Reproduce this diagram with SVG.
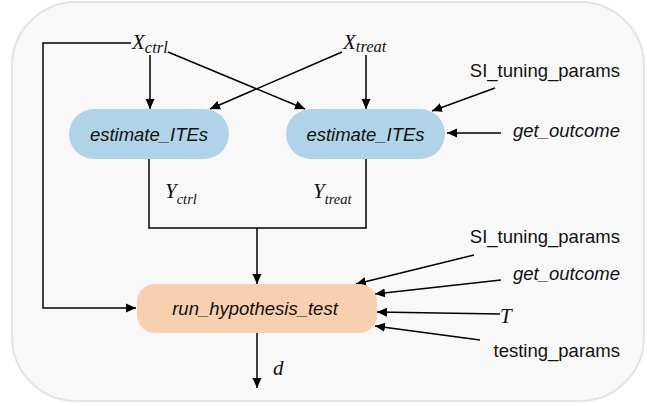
<svg xmlns="http://www.w3.org/2000/svg" width="647" height="406" viewBox="0 0 647 406">
  <style>
    .frame { fill: #f8f8f8; stroke: #e3e3e3; stroke-width: 2; }
    .ite { fill: #b1d3e7; }
    .test { fill: #f7d0b0; }
    .edge { fill: none; stroke: #000; stroke-width: 1.5; }
    .sans { font-family: "Liberation Sans", Arial, Helvetica, sans-serif; font-size: 18.5px; fill: #111; }
    .it { font-style: italic; }
    .math { font-family: "Liberation Serif", "Times New Roman", serif; font-style: italic; fill: #111; }
    .big { font-size: 21px; }
    .sub { font-size: 16.5px; }
    .sub-s { font-size: 14.5px; }
  </style>
  <defs>
    <marker id="arrow" viewBox="0 0 10 10" refX="10" refY="5" markerWidth="10" markerHeight="10" markerUnits="userSpaceOnUse" orient="auto">
      <path d="M0,0.5 L10,5 L0,9.5 Z" fill="#000"/>
    </marker>
  </defs>

  <!-- outer panel -->
  <rect class="frame" x="12" y="2" width="632" height="399" rx="64" ry="64"/>

  <!-- connectors -->
  <g id="connectors">
    <!-- X_ctrl bypass to the hypothesis test -->
    <polyline class="edge" points="131,43 43,43 43,308 136,308" marker-end="url(#arrow)"/>
    <line class="edge" x1="150" y1="55" x2="150" y2="109" marker-end="url(#arrow)"/>
    <line class="edge" x1="168" y1="52" x2="305" y2="109" marker-end="url(#arrow)"/>
    <line class="edge" x1="342" y1="52" x2="210" y2="109" marker-end="url(#arrow)"/>
    <line class="edge" x1="366" y1="55" x2="366" y2="109" marker-end="url(#arrow)"/>
    <line class="edge" x1="495" y1="88" x2="432" y2="111" marker-end="url(#arrow)"/>
    <line class="edge" x1="501" y1="133" x2="447" y2="133" marker-end="url(#arrow)"/>
    <!-- outcomes merge into the test -->
    <polyline class="edge" points="149,159 149,228 366,228 366,159"/>
    <line class="edge" x1="257" y1="228" x2="257" y2="284" marker-end="url(#arrow)"/>
    <line class="edge" x1="257" y1="333" x2="257" y2="388" marker-end="url(#arrow)"/>
    <!-- right-hand inputs to the test -->
    <line class="edge" x1="474" y1="255" x2="356" y2="284" marker-end="url(#arrow)"/>
    <line class="edge" x1="501" y1="280" x2="375" y2="294" marker-end="url(#arrow)"/>
    <line class="edge" x1="500" y1="314" x2="377" y2="312" marker-end="url(#arrow)"/>
    <line class="edge" x1="480" y1="340" x2="375" y2="326" marker-end="url(#arrow)"/>
  </g>

  <!-- nodes -->
  <g id="estimate-ctrl">
    <rect class="ite" x="69" y="109" width="160" height="50" rx="25"/>
    <text class="sans it" x="149" y="141" text-anchor="middle">estimate_ITEs</text>
  </g>
  <g id="estimate-treat">
    <rect class="ite" x="286" y="109" width="159" height="50" rx="25"/>
    <text class="sans it" x="365.5" y="141" text-anchor="middle">estimate_ITEs</text>
  </g>
  <g id="hypothesis-test">
    <rect class="test" x="137" y="284" width="240" height="49" rx="18"/>
    <text class="sans it" x="255" y="315" text-anchor="middle">run_hypothesis_test</text>
  </g>

  <!-- variable labels -->
  <g id="x-ctrl">
    <text class="math" x="132" y="49"><tspan class="big">X</tspan><tspan class="sub" dy="4">ctrl</tspan></text>
  </g>
  <g id="x-treat">
    <text class="math" x="343" y="49"><tspan class="big">X</tspan><tspan class="sub" dy="3">treat</tspan></text>
  </g>
  <g id="y-ctrl">
    <text class="math" x="165" y="198"><tspan class="big">Y</tspan><tspan class="sub-s" dy="6">ctrl</tspan></text>
  </g>
  <g id="y-treat">
    <text class="math" x="313" y="198"><tspan class="big">Y</tspan><tspan class="sub-s" dy="6">treat</tspan></text>
  </g>
  <g id="d">
    <text class="math big" x="273" y="375">d</text>
  </g>
  <g id="t">
    <text class="math big" x="500" y="323">T</text>
  </g>

  <!-- parameter labels -->
  <g id="si-tuning-1"><text class="sans" x="620" y="77" text-anchor="end">SI_tuning_params</text></g>
  <g id="get-outcome-1"><text class="sans it" x="620" y="137" text-anchor="end">get_outcome</text></g>
  <g id="si-tuning-2"><text class="sans" x="620" y="243" text-anchor="end">SI_tuning_params</text></g>
  <g id="get-outcome-2"><text class="sans it" x="620" y="280" text-anchor="end">get_outcome</text></g>
  <g id="testing-params"><text class="sans" x="620" y="357" text-anchor="end">testing_params</text></g>
</svg>
